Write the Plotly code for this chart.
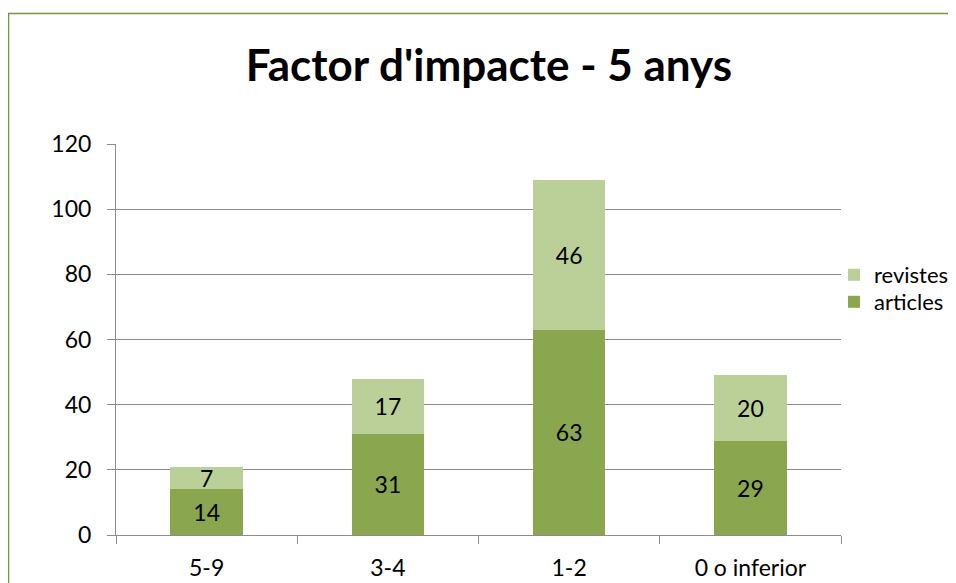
import plotly.graph_objects as go

categories = ["5-9", "3-4", "1-2", "0 o inferior"]
articles = [14, 31, 63, 29]
revistes = [7, 17, 46, 20]
y_ticks = [0, 20, 40, 60, 80, 100, 120]

# page body has an 8px margin: work in reference pixel coords, shift by OFF
OFF = 8
W, H = 956 - OFF, 583 - OFF
PL, PR, PT, PB = 116, 841, 144, 535  # plot area in reference pixels
L, R, T, B = PL - OFF, W - (PR - OFF), PT - OFF, H - (PB - OFF)
pw, ph = W - L - R, H - T - B

font = "Lato, 'Open Sans', sans-serif"
FS = 23
GRID = "#8c8c8c"

def px_x(p):
    return (p - OFF - L) / pw

def px_y(p):
    return (H - B - (p - OFF)) / ph

fig = go.Figure()
fig.add_trace(go.Bar(
    x=categories, y=articles, name="articles", legend="legend2",
    marker=dict(color="#8aa64e", line=dict(width=0)),
    text=articles, textposition="inside", insidetextanchor="middle", textangle=0,
    textfont=dict(color="black", size=FS, family=font), constraintext="none",
))
fig.add_trace(go.Bar(
    x=categories, y=revistes, name="revistes", legend="legend",
    marker=dict(color="#bbcf98", line=dict(width=0)),
    text=revistes, textposition="inside", insidetextanchor="middle", textangle=0,
    textfont=dict(color="black", size=FS, family=font), constraintext="none",
))

leg_common = dict(xanchor="left", yanchor="middle", font=dict(size=22, family=font, color="black"),
                  bgcolor="rgba(0,0,0,0)", itemwidth=30)

fig.update_layout(
    width=W, height=H,
    barmode="stack", bargap=0.6,
    margin=dict(l=L, r=R, t=T, b=B, autoexpand=False),
    paper_bgcolor="white", plot_bgcolor="white",
    font=dict(family=font, size=FS, color="black"),
    title=dict(text="<b>Factor d'impacte - 5 anys</b>", x=(489 - OFF) / W, xanchor="center",
               y=1 - (66 - OFF) / H, yanchor="middle", font=dict(size=44, family=font, color="black")),
    legend=dict(x=px_x(834), y=px_y(275), **leg_common),
    legend2=dict(x=px_x(834), y=px_y(302), **leg_common),
    hovermode=False,
    showlegend=True,
    shapes=[dict(type="rect", xref="paper", yref="paper",
                 x0=px_x(8.5), x1=px_x(990), y0=px_y(620), y1=px_y(13.5),
                 line=dict(color="#77953d", width=1.5), fillcolor="rgba(0,0,0,0)", layer="below")],
)
fig.update_xaxes(
    type="category", tickson="boundaries", ticks="outside", ticklen=8, tickcolor=GRID,
    showline=True, linecolor=GRID, linewidth=1, showgrid=False,
    tickfont=dict(size=FS, family=font), ticklabelstandoff=12,
)
fig.update_yaxes(
    range=[0, 120], tickvals=y_ticks, ticks="outside", ticklen=8, tickcolor=GRID,
    showline=True, linecolor=GRID, linewidth=1,
    showgrid=True, gridcolor=GRID, gridwidth=1, zeroline=False,
    tickfont=dict(size=FS, family=font), ticklabelstandoff=11,
)

fig.write_html("out.html")
